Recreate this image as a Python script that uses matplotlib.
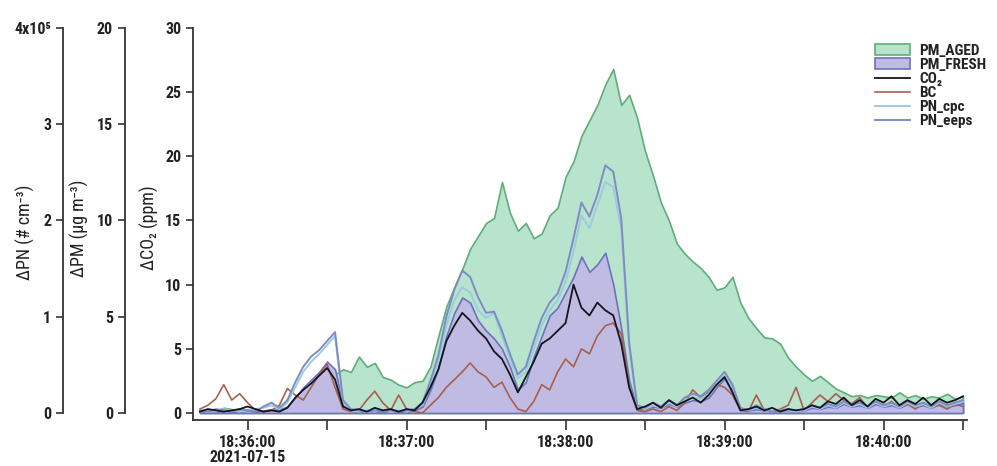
import numpy as np
import pandas as pd
import matplotlib
matplotlib.use("Agg")
import matplotlib.pyplot as plt
import matplotlib.dates as mdates
from matplotlib.ticker import FixedLocator, FixedFormatter, FuncFormatter

plt.rcParams['font.family'] = ['Roboto Condensed', 'DejaVu Sans']
plt.rcParams['font.weight'] = 'semibold'

# time grid: one sample every 3 s
times = pd.date_range("2021-07-15 18:35:42", "2021-07-15 18:40:30", freq="3s")

# PM (ug m-3)
pm_aged = [0.13, 0.2, 0.13, 0.27, 0.2, 0.13, 0.2, 0.13, 0.07, 0.13,
           0.2, 0.33, 0.53, 0.8, 1.2, 1.53, 1.87, 2.0, 2.27, 2.13,
           2.93, 2.4, 2.6, 1.87, 1.73, 1.47, 1.33, 1.6, 1.67, 2.4,
           4.0, 5.53, 6.53, 7.47, 8.53, 9.2, 9.87, 10.13, 12.0, 10.4,
           9.47, 9.87, 9.07, 9.33, 10.27, 10.67, 12.27, 13.07, 14.4, 15.2,
           16.0, 17.07, 17.87, 16.0, 16.53, 15.33, 13.6, 12.33, 10.93, 10.0,
           8.8, 8.27, 7.87, 7.53, 7.07, 6.4, 6.53, 7.07, 5.73, 4.93,
           4.4, 3.93, 3.87, 3.6, 2.87, 2.4, 2.0, 1.67, 1.93, 1.6,
           1.27, 1.07, 0.87, 0.93, 0.8, 0.93, 0.87, 0.8, 1.07, 0.8,
           0.93, 0.73, 0.87, 0.8, 1.0, 0.73, 0.87]
pm_fresh = [0.07, 0.13, 0.07, 0.13, 0.07, 0.07, 0.13, 0.07, 0.13, 0.2,
            0.13, 0.33, 0.8, 1.33, 1.73, 2.13, 2.67, 2.27, 0.4, 0.13,
            0.07, 0.13, 0.07, 0.07, 0.13, 0.07, 0.07, 0.13, 0.33, 1.2,
            2.33, 4.0, 5.2, 6.0, 5.73, 4.8, 4.27, 3.87, 3.33, 2.4,
            1.2, 1.6, 2.93, 4.0, 5.07, 5.47, 6.27, 7.07, 8.13, 7.33,
            7.73, 8.33, 6.67, 4.4, 1.67, 0.2, 0.2, 0.33, 0.27, 0.47,
            0.33, 0.53, 0.67, 0.6, 0.8, 1.33, 1.8, 1.2, 0.2, 0.13,
            0.2, 0.13, 0.07, 0.13, 0.13, 0.07, 0.13, 0.27, 0.2, 0.33,
            0.27, 0.47, 0.33, 0.4, 0.27, 0.47, 0.33, 0.4, 0.27, 0.47,
            0.33, 0.4, 0.27, 0.47, 0.33, 0.4, 0.53]
bc = [0.2, 0.4, 0.73, 1.47, 0.67, 1.0, 0.53, 0.13, 0.07, 0.13,
      0.4, 1.27, 0.93, 0.67, 1.33, 2.0, 2.53, 1.33, 0.2, 0.07,
      0.13, 0.67, 1.13, 0.53, 0.13, 0.93, 0.2, 0.07, 0.0, 0.4,
      0.8, 1.33, 1.73, 2.13, 2.6, 2.13, 1.87, 1.33, 1.6, 0.8,
      0.2, 0.07, 0.6, 1.47, 1.2, 2.13, 2.8, 2.4, 3.33, 3.07,
      4.0, 4.53, 4.67, 4.13, 1.33, 0.13, 0.07, 0.2, 0.07, 0.33,
      0.13, 0.53, 1.2, 0.8, 1.07, 1.47, 1.33, 0.93, 0.13, 0.07,
      0.93, 0.13, 0.07, 0.2, 0.4, 1.33, 0.13, 0.53, 0.93, 0.6,
      1.0, 0.67, 0.47, 0.8, 0.27, 0.53, 0.33, 0.6, 0.27, 0.47,
      0.2, 0.53, 0.33, 0.4, 0.2, 0.47, 0.33]

# CO2 (ppm)
co2 = [0.1, 0.3, 0.2, 0.1, 0.2, 0.3, 0.5, 0.3, 0.1, 0.2,
       0.1, 0.4, 1.2, 1.8, 2.3, 2.9, 3.5, 2.6, 0.5, 0.2,
       0.3, 0.1, 0.4, 0.2, 0.3, 0.1, 0.3, 0.2, 0.8, 2.0,
       3.4, 5.6, 6.8, 7.8, 7.2, 6.4, 5.8, 4.8, 4.2, 3.0,
       1.6, 2.8, 4.0, 5.4, 5.8, 6.4, 7.0, 10.0, 8.2, 7.6,
       8.6, 8.0, 7.6, 5.4, 2.0, 0.3, 0.5, 0.8, 0.4, 1.0,
       0.6, 0.9, 1.2, 0.8, 1.4, 2.2, 2.8, 1.6, 0.2, 0.3,
       0.5, 0.2, 0.4, 0.1, 0.3, 0.2, 0.3, 0.6, 0.4, 0.9,
       0.7, 1.2, 0.6, 1.0, 0.5, 1.1, 0.8, 1.3, 0.6, 1.0,
       0.7, 1.2, 0.6, 1.1, 0.8, 1.0, 1.3]

# PN (x10^5 # cm-3)
pn_cpc = [0.013, 0.027, 0.013, 0.04, 0.027, 0.013, 0.027, 0.04, 0.053, 0.08,
          0.04, 0.107, 0.267, 0.427, 0.533, 0.613, 0.707, 0.8, 0.107, 0.027,
          0.013, 0.027, 0.013, 0.027, 0.013, 0.027, 0.013, 0.04, 0.08, 0.293,
          0.533, 0.907, 1.173, 1.307, 1.253, 1.067, 0.987, 1.04, 0.8, 0.56,
          0.36, 0.427, 0.667, 0.907, 1.067, 1.173, 1.36, 1.68, 2.053, 1.92,
          2.16, 2.4, 2.347, 1.92, 0.667, 0.067, 0.04, 0.08, 0.053, 0.107,
          0.067, 0.133, 0.16, 0.147, 0.2, 0.293, 0.387, 0.267, 0.04, 0.027,
          0.053, 0.027, 0.013, 0.027, 0.027, 0.013, 0.027, 0.067, 0.04, 0.08,
          0.053, 0.107, 0.067, 0.093, 0.053, 0.107, 0.067, 0.093, 0.053, 0.107,
          0.067, 0.093, 0.053, 0.107, 0.067, 0.093, 0.12]
pn_eeps = [0.027, 0.013, 0.04, 0.027, 0.013, 0.04, 0.027, 0.013, 0.067, 0.107,
           0.053, 0.133, 0.32, 0.48, 0.587, 0.653, 0.747, 0.84, 0.133, 0.04,
           0.027, 0.013, 0.027, 0.013, 0.027, 0.013, 0.027, 0.04, 0.107, 0.333,
           0.6, 1.0, 1.28, 1.48, 1.413, 1.2, 1.04, 1.053, 0.853, 0.613,
           0.4, 0.48, 0.747, 0.987, 1.147, 1.24, 1.467, 1.813, 2.187, 2.04,
           2.267, 2.573, 2.507, 2.027, 0.733, 0.08, 0.053, 0.107, 0.067, 0.133,
           0.08, 0.16, 0.2, 0.173, 0.24, 0.333, 0.427, 0.293, 0.053, 0.027,
           0.08, 0.04, 0.013, 0.027, 0.04, 0.027, 0.04, 0.08, 0.053, 0.093,
           0.067, 0.12, 0.08, 0.107, 0.067, 0.12, 0.08, 0.107, 0.067, 0.12,
           0.08, 0.107, 0.067, 0.12, 0.08, 0.107, 0.133]

pn_ticks = [0, 1, 2, 3, 4]
pn_labels = ['0', '1', '2', '3', '4x10\u2075']

spine_col = '#333333'
text_col = '#222222'
fs = 11.5
lfs = 13

fig = plt.figure(figsize=(9.97, 4.66), dpi=100)
ax = fig.add_axes([0.1936, 0.0987, 0.7763, 0.8412])
ax_pm = ax.twinx()
ax_pn = ax.twinx()

ax_pm.set_zorder(1)
ax_pn.set_zorder(2)
ax.set_zorder(3)
for a in (ax, ax_pm, ax_pn):
    a.patch.set_visible(False)

# fills and BC on the PM axis
h_aged = ax_pm.fill_between(times, 0, pm_aged, facecolor='#b8e3cd', edgecolor='#5fae78',
                            linewidth=1.2, label='PM_AGED')
h_fresh = ax_pm.fill_between(times, 0, pm_fresh, facecolor='#c0bbe3', edgecolor='#6f72bc',
                             linewidth=1.2, label='PM_FRESH')
h_bc, = ax_pm.plot(times, bc, color='#a8604c', lw=1.2, label='BC')

h_cpc, = ax_pn.plot(times, pn_cpc, color='#9ccbe0', lw=1.4, label='PN_cpc')
h_eeps, = ax_pn.plot(times, pn_eeps, color='#7f8cc4', lw=1.4, label='PN_eeps')

h_co2, = ax.plot(times, co2, color='#15151f', lw=1.3, label='CO\u2082')

# limits so that zero lines up on every axis
ax.set_ylim(-0.55, 30)
ax_pm.set_ylim(-0.55 * 20 / 30, 20)
ax_pn.set_ylim(-0.55 * 4 / 30, 4)
ax.set_xlim(pd.Timestamp("2021-07-15 18:35:39.4"), pd.Timestamp("2021-07-15 18:40:31.5"))

# main axis
for s in ('top', 'right'):
    ax.spines[s].set_visible(False)
for s in ('left', 'bottom'):
    ax.spines[s].set_color(spine_col)
    ax.spines[s].set_linewidth(1.3)
ax.set_yticks([0, 5, 10, 15, 20, 25, 30])
ax.tick_params(axis='y', length=5, width=1.2, color=spine_col, labelsize=fs, labelcolor=text_col)
ax.set_ylabel('\u0394CO\u2082 (ppm)', fontsize=lfs, color=text_col)
ax.yaxis.set_label_coords(-0.044, 0.49)

ax.xaxis.set_major_locator(mdates.SecondLocator(bysecond=[0, 30]))


def fmt_time(x, pos):
    d = mdates.num2date(x)
    if d.second != 0:
        return ''
    s = d.strftime('%H:%M:%S')
    if pos == 0:
        s += '\n2021-07-15'
    return s


ax.xaxis.set_major_formatter(FuncFormatter(fmt_time))
ax.tick_params(axis='x', length=7, width=1.2, color=spine_col, labelsize=fs, labelcolor=text_col)
for t in ax.get_xticklabels():
    t.set_linespacing(1.0)

# PM axis on the left
for s in ('top', 'right', 'bottom'):
    ax_pm.spines[s].set_visible(False)
ax_pm.spines['left'].set_visible(True)
ax_pm.spines['left'].set_position(('axes', -0.088))
ax_pm.spines['left'].set_bounds(0, 20)
ax_pm.spines['left'].set_color(spine_col)
ax_pm.spines['left'].set_linewidth(1.3)
ax_pm.yaxis.set_ticks_position('left')
ax_pm.yaxis.set_label_position('left')
ax_pm.set_yticks([0, 5, 10, 15, 20])
ax_pm.tick_params(axis='y', length=5, width=1.2, color=spine_col, labelsize=fs, labelcolor=text_col)
ax_pm.set_ylabel('\u0394PM (\u00b5g m\u207b\u00b3)', fontsize=lfs, color=text_col)
ax_pm.yaxis.set_label_coords(-0.135, 0.49)

# PN axis further left
for s in ('top', 'right', 'bottom'):
    ax_pn.spines[s].set_visible(False)
ax_pn.spines['left'].set_visible(True)
ax_pn.spines['left'].set_position(('axes', -0.168))
ax_pn.spines['left'].set_bounds(0, 4)
ax_pn.spines['left'].set_color(spine_col)
ax_pn.spines['left'].set_linewidth(1.3)
ax_pn.yaxis.set_ticks_position('left')
ax_pn.yaxis.set_label_position('left')
ax_pn.yaxis.set_major_locator(FixedLocator(pn_ticks))
ax_pn.yaxis.set_major_formatter(FixedFormatter(pn_labels))
ax_pn.tick_params(axis='y', length=5, width=1.2, color=spine_col, labelsize=fs, labelcolor=text_col)
ax_pn.set_ylabel('\u0394PN (# cm\u207b\u00b3)', fontsize=lfs, color=text_col)
ax_pn.yaxis.set_label_coords(-0.204, 0.48)

handles = [h_aged, h_fresh, h_co2, h_bc, h_cpc, h_eeps]
leg = ax.legend(handles=handles, loc='upper right', bbox_to_anchor=(1.033, 0.975),
                frameon=False, fontsize=11, handlelength=2.3, handleheight=0.7,
                labelspacing=0.0, handletextpad=0.6, borderaxespad=0.0)
for t in leg.get_texts():
    t.set_color(text_col)

fig.savefig('out.png', dpi=100)
